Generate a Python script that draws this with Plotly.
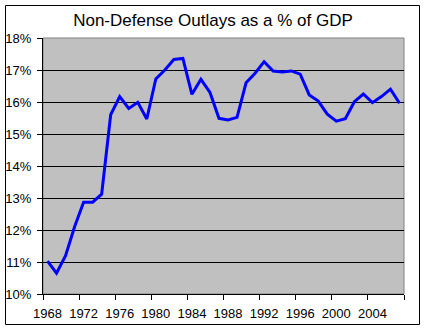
import plotly.graph_objects as go

years = list(range(1968, 2008))
outlays_pct = [11.03, 10.65, 11.2, 12.1, 12.87, 12.87, 13.12, 15.6, 16.17, 15.8,
               15.99, 15.47, 16.72, 17.0, 17.33, 17.36, 16.24, 16.71, 16.3, 15.49,
               15.44, 15.52, 16.6, 16.9, 17.26, 16.97, 16.94, 16.97, 16.87, 16.22,
               16.03, 15.62, 15.4, 15.48, 16.01, 16.25, 15.98, 16.17, 16.4, 15.96]
label_years = list(range(1968, 2008, 4))
y_ticks = list(range(10, 19))

font = "Liberation Sans, Arial, sans-serif"

fig = go.Figure()
fig.add_trace(go.Scatter(x=years, y=outlays_pct, mode="lines",
                         line=dict(color="#0000FF", width=3), hoverinfo="skip"))

L, R, T, B = 43, 22, 38, 36
W, H = 426, 330
pw, ph = W - L - R, H - T - B

def px_x(x):
    return (x - L) / pw

def px_y(y):
    return (H - B - y) / ph

fig.update_layout(
    width=W, height=H,
    margin=dict(l=L, r=R, t=T, b=B, autoexpand=False),
    paper_bgcolor="white",
    plot_bgcolor="#C0C0C0",
    showlegend=False,
    title=dict(text="Non-Defense Outlays as a % of GDP", x=0.5, xanchor="center",
               y=1 - 20 / H, yanchor="middle", yref="container",
               font=dict(family=font, size=17, color="black")),
    xaxis=dict(range=[1967.5, 2007.5], tickvals=label_years,
               ticktext=[str(y) for y in label_years], ticks="", showgrid=False,
               zeroline=False, showline=True, linecolor="black", linewidth=1,
               ticklabelstandoff=7, automargin=False,
               tickfont=dict(family=font, size=13, color="black"),
               minor=dict(tickvals=[1967.5 + 4 * k for k in range(11)], ticks="outside",
                          ticklen=5, tickcolor="black", showgrid=False)),
    yaxis=dict(range=[10, 18], tickvals=y_ticks, ticktext=[f"{v}%" for v in y_ticks],
               ticks="outside", ticklen=5, tickcolor="black", showgrid=True,
               gridcolor="black", gridwidth=1, zeroline=False, showline=True,
               linecolor="black", linewidth=1, ticklabelstandoff=3, automargin=False,
               tickfont=dict(family=font, size=13, color="black")),
    shapes=[
        dict(type="rect", xref="paper", yref="paper", x0=0, x1=1, y0=0, y1=1,
             line=dict(color="#808080", width=1), layer="below"),
        dict(type="rect", xref="paper", yref="paper",
             x0=px_x(5.5), x1=px_x(419.5), y0=px_y(324.5), y1=px_y(5.5),
             line=dict(color="black", width=1)),
    ],
)

fig.write_html("out.html")
